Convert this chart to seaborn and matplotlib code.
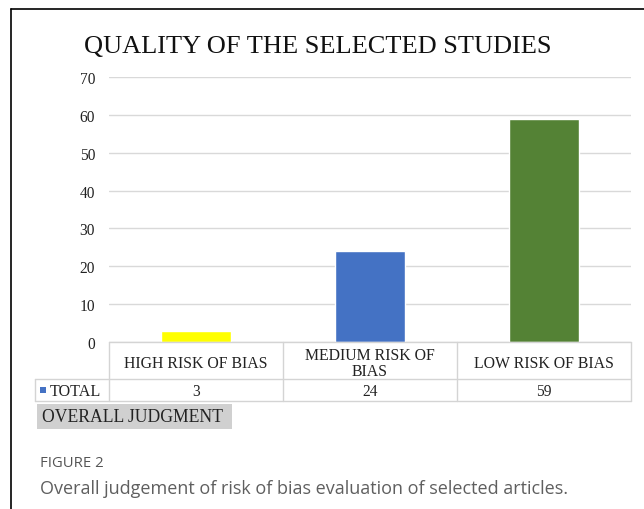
import textwrap
import matplotlib
matplotlib.use("Agg")
import matplotlib.pyplot as plt
import seaborn as sns
from matplotlib.lines import Line2D
from matplotlib.patches import Rectangle

# ---- data ----
categories = ["HIGH RISK OF BIAS", "MEDIUM RISK OF BIAS", "LOW RISK OF BIAS"]
totals = [3, 24, 59]
bar_colors = ["#FFFF00", "#4472C4", "#548235"]
series_name = "TOTAL"
series_color = "#4472C4"
title = "QUALITY OF THE SELECTED STUDIES"
axis_title = "OVERALL JUDGMENT"
y_ticks = [0, 10, 20, 30, 40, 50, 60, 70]
fig_label = "FIGURE 2"
caption = "Overall judgement of risk of bias evaluation of selected articles."

sns.set_theme(style="white")
plt.rcParams["font.family"] = ["Liberation Serif", "DejaVu Serif"]

W, H = 644, 510
fig = plt.figure(figsize=(W / 100, H / 100), dpi=100)


def fx(x):
    return x / W


def fy(y):
    return 1 - y / H


# plot area in pixel coords
L, R, T, B = 109, 631, 78, 343
ax = fig.add_axes([fx(L), fy(B), fx(R) - fx(L), fy(T) - fy(B)])

sns.barplot(x=categories, y=totals, hue=categories, palette=bar_colors,
            width=0.40, legend=False, ax=ax, saturation=1)
ax.set_ylim(0, 70)
ax.set_xlim(-0.5, len(categories) - 0.5)
ax.set_yticks(y_ticks)
ax.set_yticklabels([str(t) for t in y_ticks], fontsize=11.2, color="#222222")
ax.tick_params(axis="y", length=0, pad=10)
ax.set_xticks([])
ax.set_xlabel("")
ax.set_ylabel("")
for s in ax.spines.values():
    s.set_visible(False)
ax.yaxis.grid(True, color="#d9d9d9", linewidth=1.0)
ax.set_axisbelow(True)

# title
fig.text(fx(318), fy(47), title, ha="center", va="center", fontsize=19,
         color="#111111")

# outer border (top and left)
fig.add_artist(Line2D([fx(11), fx(644)], [fy(10), fy(10)], color="black", lw=1.2,
                      transform=fig.transFigure))
fig.add_artist(Line2D([fx(11), fx(11)], [fy(10), fy(510)], color="black", lw=1.2,
                      transform=fig.transFigure))

# data table below the axis
grid_c = "#d4d4d4"
col_edges = [L + (R - L) * i / len(categories) for i in range(len(categories) + 1)]
row_top, row_mid, row_bot = B, 380, 402
left_cell = 35


def hline(x0, x1, y):
    fig.add_artist(Line2D([fx(x0), fx(x1)], [fy(y), fy(y)], color=grid_c, lw=1,
                          transform=fig.transFigure))


def vline(x, y0, y1):
    fig.add_artist(Line2D([fx(x), fx(x)], [fy(y0), fy(y1)], color=grid_c, lw=1,
                          transform=fig.transFigure))


hline(L, R, row_top)
hline(left_cell, R, row_mid)
hline(left_cell, R, row_bot)
for x in col_edges:
    vline(x, row_top, row_bot)
vline(left_cell, row_mid, row_bot)

for i, (cat, val) in enumerate(zip(categories, totals)):
    cx = (col_edges[i] + col_edges[i + 1]) / 2
    fig.text(fx(cx), fy((row_top + row_mid) / 2 + 2.5), textwrap.fill(cat, 17),
             ha="center", va="center", fontsize=11.4, linespacing=1.05,
             color="#222222")
    fig.text(fx(cx), fy((row_mid + row_bot) / 2 + 1), str(val), ha="center",
             va="center", fontsize=11.2, color="#222222")

# legend key in the table
fig.add_artist(Rectangle((fx(40), fy(394)), fx(6), fy(388) - fy(394),
                         facecolor=series_color, edgecolor="none",
                         transform=fig.transFigure))
fig.text(fx(50), fy(392), series_name, ha="left", va="center", fontsize=11.6,
         color="#222222")

# axis title box
fig.add_artist(Rectangle((fx(37), fy(430)), fx(232) - fx(37), fy(405) - fy(430),
                         facecolor="#d0d0d0", edgecolor="none",
                         transform=fig.transFigure))
fig.text(fx(42), fy(418), axis_title, ha="left", va="center", fontsize=12.7,
         color="#222222")

# figure caption
fig.text(fx(40), fy(464), fig_label, ha="left", va="center", fontsize=10.7,
         family=["Open Sans", "DejaVu Sans"], color="#555555")
fig.text(fx(40), fy(489), caption, ha="left", va="center", fontsize=13,
         family=["Open Sans", "DejaVu Sans"], color="#5f5f5f")

fig.savefig("out.png", dpi=100)
